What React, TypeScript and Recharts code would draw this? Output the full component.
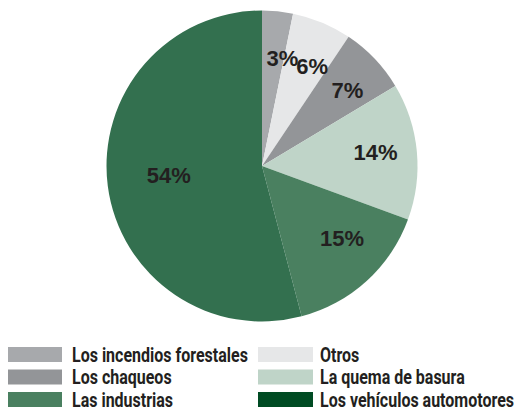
import React from 'react';
import { PieChart, Pie, Cell, Legend } from 'recharts';

const categories = [
  'Los incendios forestales',
  'Otros',
  'Los chaqueos',
  'La quema de basura',
  'Las industrias',
  'Los vehículos automotores',
];
const shares = [3.2, 6.2, 7.0, 14.2, 15.3, 54.1];
const shareLabels = ['3%', '6%', '7%', '14%', '15%', '54%'];
const sliceColors = ['#a7a9ac', '#e6e7e8', '#939598', '#bfd4c8', '#4a8060', '#33704f'];
const legendColors = ['#a7a9ac', '#e6e7e8', '#939598', '#bfd4c8', '#4a8060', '#004b23'];

const data = categories.map((name, i) => ({ name, value: shares[i], label: shareLabels[i] }));

const RAD = Math.PI / 180;

const renderLabel = (props: any) => {
  const { cx, cy, midAngle, index } = props;
  const r = 104;
  const x = cx + 10 + r * Math.cos(-midAngle * RAD);
  const y = cy - 4 + r * Math.sin(-midAngle * RAD);
  return (
    <text
      x={x}
      y={y}
      textAnchor="middle"
      dominantBaseline="central"
      fill="#231f20"
      fontFamily="'Liberation Sans', Arial, sans-serif"
      fontWeight={700}
      fontSize={22}
    >
      {shareLabels[index]}
    </text>
  );
};

const LegendBox = () => (
  <svg width={522} height={72} style={{ display: 'block' }}>
    {categories.map((name, i) => {
      const col = i % 2;
      const row = Math.floor(i / 2);
      const sx = col === 0 ? 7 : 258;
      const tx = col === 0 ? 72 : 320;
      const top = 9 + row * 22.5;
      return (
        <g key={name}>
          <rect x={sx} y={top} width={55} height={15} fill={legendColors[i]} />
          <text
            transform={`translate(${tx},${top + 14.5}) scale(0.8,1)`}
            fill="#231f20"
            fontFamily="Roboto, sans-serif"
            fontWeight={700}
            fontSize={20}
          >
            {name}
          </text>
        </g>
      );
    })}
  </svg>
);

export default function App() {
  return (
    <div style={{ marginLeft: -8, marginTop: -8, width: 522, height: 410, background: '#fff' }}>
      <PieChart width={522} height={410} margin={{ top: 0, right: 0, bottom: 0, left: 0 }}>
        <Pie
          data={data}
          dataKey="value"
          nameKey="name"
          cx={262}
          cy={166}
          outerRadius={155.5}
          startAngle={90}
          endAngle={-270}
          stroke="none"
          label={renderLabel}
          labelLine={false}
          isAnimationActive={false}
        >
          {data.map((d, i) => (
            <Cell key={d.name} fill={sliceColors[i]} />
          ))}
        </Pie>
        <Legend
          content={() => <LegendBox />}
          wrapperStyle={{ position: 'absolute', left: 0, top: 338, width: 522, height: 72 }}
        />
      </PieChart>
    </div>
  );
}
